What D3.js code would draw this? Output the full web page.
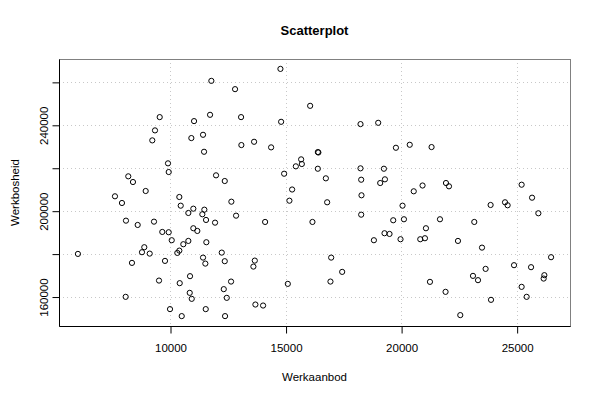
<!DOCTYPE html>
<html>
<head>
<meta charset="utf-8">
<script src="https://cdn.jsdelivr.net/npm/d3@7/dist/d3.min.js"></script>
<style>
  body { margin: 0; background: #fff; }
  svg { display: block; font-family: "Liberation Sans", Arial, Helvetica, sans-serif; }
</style>
</head>
<body>
<svg id="chart" width="600" height="400"></svg>
<script>
const titleText = "Scatterplot";
const xLabel = "Werkaanbod";
const yLabel = "Werkbosheid";

const werkaanbod = [
  11789, 12815, 9554, 11040, 11733, 13075, 9350, 9233, 10923, 11429,
  11473, 13088, 9913, 9944, 8194, 8397, 11992, 12369, 8947, 7618,
  7921, 10403, 10463, 12655, 10793, 11009, 11486, 11399, 11559, 12859,
  8094, 8601, 9307, 11949, 9666, 9944, 11009, 11182, 10074, 10793,
  10576, 11572, 6015, 8887, 8787, 9121, 10403, 10316, 11429, 11529,
  12239, 12369, 8354, 9783, 9524, 10420, 10866, 12642, 12326, 10853,
  10940, 12456, 8081, 10000, 10507, 11546, 12382, 14778, 16064, 14808,
  18243, 19009, 13638, 14375, 16397, 16420, 19776, 20374, 15674, 15445,
  15704, 16397, 18243, 19256, 14938, 16744, 18273, 19300, 19096, 15284,
  15167, 16800, 18286, 20062, 14115, 16164, 18273, 19659, 20123, 19282,
  19499, 18823, 19975, 13669, 13608, 16974, 17450, 16943, 15098, 13695,
  14028, 21318, 20928, 21942, 22072, 25216, 20547, 25667, 23873, 24497,
  24610, 25940, 21682, 23167, 21075, 20829, 21032, 22461, 23501, 26490,
  24887, 25624, 23657, 23111, 23328, 26199, 26169, 21249, 25216, 21924,
  25433, 23891, 22561
];
const werkbosheid = [
  260466, 256605, 243582, 241722, 244652, 243582, 237396, 232745, 233815, 235349,
  227442, 230559, 222047, 218000, 216000, 213349, 216466, 213814, 209163, 206698,
  203582, 206372, 202326, 204186, 198930, 200931, 200465, 198326, 195675, 197675,
  195349, 193349, 194884, 194419, 190093, 189954, 191814, 190558, 186233, 185907,
  184372, 185302, 179861, 182977, 180651, 180000, 181396, 180326, 178140, 175349,
  180465, 176465, 175675, 176605, 167442, 166233, 169488, 166977, 163442, 161721,
  158930, 159395, 159860, 154139, 150884, 154139, 150884, 266047, 248838, 241396,
  240326, 240931, 232094, 229489, 227303, 227100, 229303, 230698, 223907, 220652,
  221722, 219535, 219721, 219535, 217210, 215070, 214419, 214605, 212884, 209861,
  204652, 203907, 207163, 202326, 194744, 194744, 198140, 195535, 196000, 189489,
  189163, 186233, 186698, 176744, 173954, 178140, 171488, 166977, 165907, 156279,
  155814, 229628, 211721, 212884, 211349, 212093, 209024, 206047, 202651, 203907,
  202512, 198791, 196000, 194744, 191814, 186698, 187163, 185907, 182791, 178326,
  174605, 173674, 172884, 169628, 167628, 169954, 168372, 166837, 164512, 162186,
  159860, 158465, 151349
];

const xTicks = [10000, 15000, 20000, 25000];
const xTickLabels = ["10000", "15000", "20000", "25000"];
const yTicks = [160000, 180000, 200000, 220000, 240000, 260000];
const yTickLabels = ["160000", "", "200000", "", "240000", ""];

const data = werkaanbod.map((v, i) => ({ x: v, y: werkbosheid[i] }));

const svg = d3.select("#chart");
const pL = 59, pR = 570, pT = 59, pB = 326;

function padded(ext) {
  const r = ext[1] - ext[0];
  return [ext[0] - 0.04 * r, ext[1] + 0.04 * r];
}

const xs = d3.scaleLinear().domain(padded(d3.extent(werkaanbod))).range([pL, pR]);
const ys = d3.scaleLinear().domain(padded(d3.extent(werkbosheid))).range([pB, pT]);

// grid
const grid = svg.append("g").attr("stroke", "#c8c8c8").attr("stroke-width", 1)
  .attr("stroke-dasharray", "1,3").attr("fill", "none");
grid.selectAll("line.gx").data(xTicks).join("line").attr("class", "gx")
  .attr("x1", d => Math.round(xs(d)) + 0.5).attr("x2", d => Math.round(xs(d)) + 0.5)
  .attr("y1", pT).attr("y2", pB);
grid.selectAll("line.gy").data(yTicks).join("line").attr("class", "gy")
  .attr("y1", d => Math.round(ys(d)) + 0.5).attr("y2", d => Math.round(ys(d)) + 0.5)
  .attr("x1", pL).attr("x2", pR);

// box
svg.append("rect").attr("x", pL + 0.5).attr("y", pT + 0.5)
  .attr("width", pR - pL).attr("height", pB - pT)
  .attr("fill", "none").attr("stroke", "#808080").attr("stroke-width", 1);

// axes
const xAxis = d3.axisBottom(xs).tickValues(xTicks)
  .tickFormat((d, i) => xTickLabels[i]).tickSize(7).tickPadding(10).tickSizeOuter(0);
const gx = svg.append("g").attr("transform", `translate(0.5,${pB + 0.5})`).call(xAxis);
gx.select(".domain").attr("d", `M${pL},0H${pR}`);

const yAxis = d3.axisLeft(ys).tickValues(yTicks)
  .tickFormat((d, i) => yTickLabels[i]).tickSize(7).tickPadding(0).tickSizeOuter(0);
const gy = svg.append("g").attr("transform", `translate(${pL + 0.5},0.5)`).call(yAxis);
gy.select(".domain").attr("d", `M0,${pT}V${pB}`);
gy.selectAll(".tick text")
  .attr("x", 0).attr("dy", null)
  .attr("text-anchor", "middle")
  .attr("transform", "translate(-12,0) rotate(-90)");

[gx, gy].forEach(g => {
  g.selectAll("text").attr("font-size", "11.5px").attr("fill", "#000")
    .attr("font-family", "'Liberation Sans', Arial, sans-serif");
  g.selectAll("line, path").attr("stroke", "#000");
});

// points
svg.append("g").selectAll("circle").data(data).join("circle")
  .attr("cx", d => xs(d.x)).attr("cy", d => ys(d.y)).attr("r", 2.6)
  .attr("fill", "none").attr("stroke", "#000").attr("stroke-width", 1);

// title and labels
svg.append("text").attr("x", (pL + pR) / 2).attr("y", 35)
  .attr("text-anchor", "middle").attr("font-size", "13px").attr("font-weight", "bold")
  .text(titleText);
svg.append("text").attr("x", (pL + pR) / 2).attr("y", 381)
  .attr("text-anchor", "middle").attr("font-size", "11.5px").text(xLabel);
svg.append("text").attr("transform", `translate(19,${(pT + pB) / 2}) rotate(-90)`)
  .attr("text-anchor", "middle").attr("font-size", "11.5px").text(yLabel);
</script>
</body>
</html>
